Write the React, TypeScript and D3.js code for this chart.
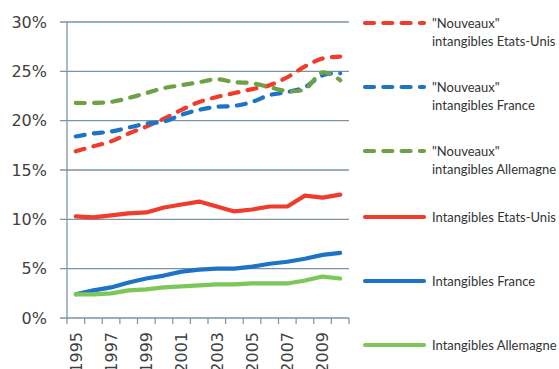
import React from "react";
import * as d3 from "d3";

const years = [1995, 1996, 1997, 1998, 1999, 2000, 2001, 2002, 2003, 2004, 2005, 2006, 2007, 2008, 2009, 2010];
const yearLabels = ["1995", "1997", "1999", "2001", "2003", "2005", "2007", "2009"];
const yTicks = [0, 5, 10, 15, 20, 25, 30];

const nouveauxUS = [16.9, 17.4, 17.9, 18.7, 19.4, 20.2, 21.1, 21.9, 22.4, 22.8, 23.2, 23.6, 24.4, 25.5, 26.3, 26.5];
const nouveauxFR = [18.4, 18.7, 18.9, 19.3, 19.7, 19.9, 20.6, 21.1, 21.4, 21.5, 21.9, 22.6, 22.9, 23.4, 24.6, 24.8];
const nouveauxDE = [21.8, 21.8, 21.9, 22.3, 22.8, 23.3, 23.6, 23.9, 24.2, 23.9, 23.8, 23.4, 23.0, 23.2, 24.9, 24.1];
const intangUS = [10.3, 10.2, 10.4, 10.6, 10.7, 11.2, 11.5, 11.8, 11.3, 10.8, 11.0, 11.3, 11.3, 12.4, 12.2, 12.5];
const intangFR = [2.4, 2.8, 3.1, 3.6, 4.0, 4.3, 4.7, 4.9, 5.0, 5.0, 5.2, 5.5, 5.7, 6.0, 6.4, 6.6];
const intangDE = [2.4, 2.4, 2.5, 2.8, 2.9, 3.1, 3.2, 3.3, 3.4, 3.4, 3.5, 3.5, 3.5, 3.8, 4.2, 4.0];

const seriesNames = [
  ["\"Nouveaux\"", "intangibles Etats-Unis"],
  ["\"Nouveaux\"", "intangibles France"],
  ["\"Nouveaux\"", "intangibles Allemagne"],
  ["Intangibles Etats-Unis"],
  ["Intangibles France"],
  ["Intangibles Allemagne"],
];

const series = [
  { values: nouveauxUS, color: "#f03c2c", dashed: true },
  { values: nouveauxFR, color: "#1d74c6", dashed: true },
  { values: nouveauxDE, color: "#6ea046", dashed: true },
  { values: intangUS, color: "#f03c2c", dashed: false },
  { values: intangFR, color: "#1d74c6", dashed: false },
  { values: intangDE, color: "#7cc758", dashed: false },
];

export default function App() {
  const W = 559, H = 369;
  const left = 67, right = 349, top = 22, bottom = 318;
  const x = d3.scaleBand<number>().domain(years).range([left, right]);
  const y = d3.scaleLinear().domain([0, 30]).range([bottom, top]);
  const gridColor = "#7d93a4";
  const cx = (i: number) => (x(years[i]) as number) + x.bandwidth() / 2;

  const lineSmooth = d3.line<number>().x((_, i) => cx(i)).y((v) => y(v)).curve(d3.curveCatmullRom.alpha(0.5));
  const lineStraight = d3.line<number>().x((_, i) => cx(i)).y((v) => y(v));

  const legendY = [23, 87, 151, 217, 281, 345];

  return (
    <svg width={W} height={H} style={{ position: "absolute", left: 0, top: 0, background: "#fff" }}>
      {yTicks.map((t) => (
        <g key={t}>
          <line x1={60} x2={right} y1={y(t)} y2={y(t)} stroke={gridColor} strokeWidth={1.3} />
          <text x={47} y={y(t)} dy="0.36em" textAnchor="end" fontFamily="DejaVu Sans" fontSize={16} fill="#404040">
            {t}%
          </text>
        </g>
      ))}
      <line x1={left} x2={left} y1={top} y2={bottom} stroke={gridColor} strokeWidth={1.3} />
      {years.concat([2011]).map((yr, i) => {
        const xx = left + i * x.step();
        return <line key={yr} x1={xx} x2={xx} y1={bottom} y2={bottom + 6} stroke={gridColor} strokeWidth={1.2} />;
      })}
      {yearLabels.map((l) => {
        const xx = (x(+l) as number) + x.bandwidth() / 2;
        return (
          <text key={l} transform={`translate(${xx},${332}) rotate(-90)`} dy="0.36em" textAnchor="end"
            fontFamily="DejaVu Sans" fontSize={16} fill="#404040">
            {l}
          </text>
        );
      })}
      {series.map((s, k) => (
        <path key={k} d={(s.dashed ? lineSmooth : lineStraight)(s.values) || ""} fill="none" stroke={s.color}
          strokeWidth={4.2} strokeLinecap="round" strokeLinejoin="round"
          strokeDasharray={s.dashed ? "9 9.3" : undefined} />
      ))}
      {series.map((s, k) => (
        <g key={"lg" + k}>
          <line x1={365} x2={424} y1={legendY[k]} y2={legendY[k]} stroke={s.color} strokeWidth={4.2}
            strokeLinecap="round" strokeDasharray={s.dashed ? "9 9.3" : undefined} />
          {seriesNames[k].map((t, j) => (
            <text key={j} x={432} y={legendY[k] + j * 18} dy="0.36em" fontFamily="Lato" fontSize={13} fill="#333">
              {t}
            </text>
          ))}
        </g>
      ))}
    </svg>
  );
}
